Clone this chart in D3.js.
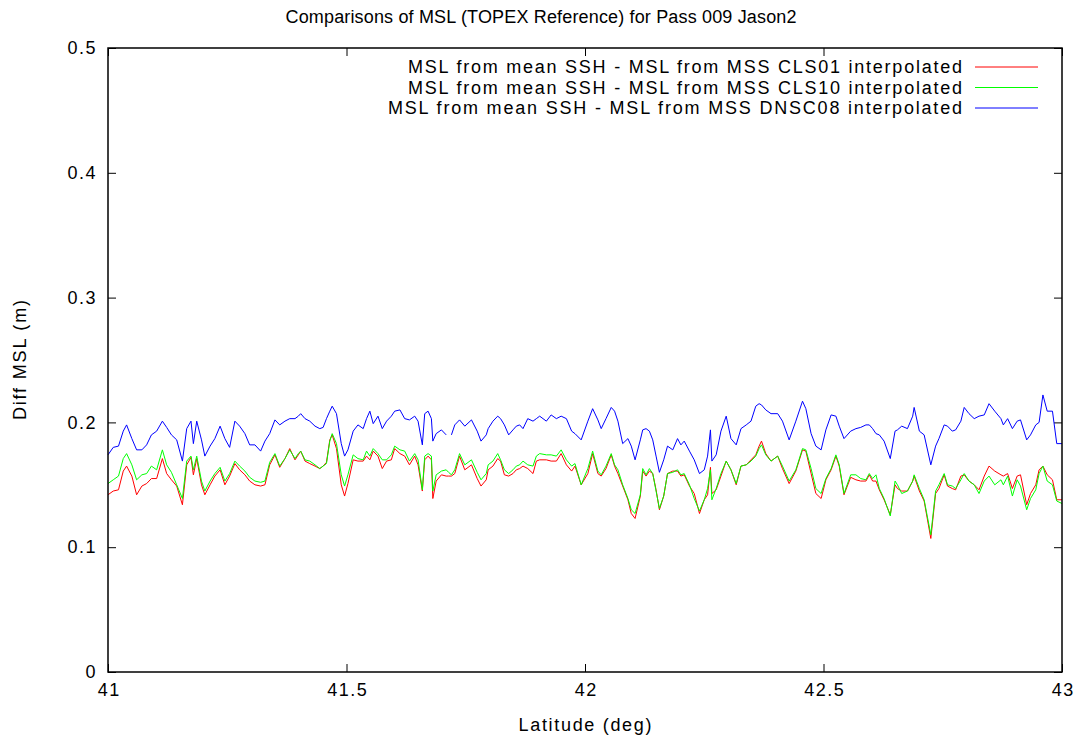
<!DOCTYPE html>
<html>
<head>
<meta charset="utf-8">
<title>Comparisons of MSL</title>
<style>
  body { margin: 0; background: #fff; }
  text { font-family: 'Liberation Sans', Arial, sans-serif; fill: #000; }
  .tick line { stroke: #000; }
  .tick text { letter-spacing: 1.5px; }
</style>
<script src="https://d3js.org/d3.v7.min.js"></script>
</head>
<body>
<div id="container"></div>
<script>
// ******* Data *******
const title = "Comparisons of MSL (TOPEX Reference) for Pass 009 Jason2";
const xLabel = "Latitude (deg)";
const yLabel = "Diff MSL (m)";
const seriesNames = [
  "MSL from mean SSH - MSL from MSS CLS01 interpolated",
  "MSL from mean SSH - MSL from MSS CLS10 interpolated",
  "MSL from mean SSH - MSL from MSS DNSC08 interpolated"
];
const seriesColors = ["#ff0000", "#00ff00", "#0000ff"];
const xTicks = [41, 41.5, 42, 42.5, 43];
const yTicks = [0, 0.1, 0.2, 0.3, 0.4, 0.5];

const lat = [
  41.000, 41.011, 41.022, 41.032, 41.039, 41.050, 41.060, 41.071, 41.081, 41.091,
  41.102, 41.114, 41.123, 41.133, 41.144, 41.156, 41.165, 41.174, 41.179, 41.186,
  41.196, 41.203, 41.214, 41.224, 41.235, 41.245, 41.255, 41.266, 41.276, 41.287,
  41.297, 41.308, 41.320, 41.329, 41.339, 41.350, 41.360, 41.371, 41.381, 41.392,
  41.399, 41.404, 41.413, 41.423, 41.434, 41.444, 41.451, 41.458, 41.465, 41.470,
  41.479, 41.489, 41.496, 41.503, 41.514, 41.524, 41.535, 41.542, 41.549, 41.556,
  41.566, 41.575, 41.584, 41.594, 41.601, 41.612, 41.622, 41.632, 41.643, 41.650,
  41.659, 41.664, 41.671, 41.678, 41.681, 41.688, 41.699, 41.709, 41.714, 41.720,
  41.727, 41.737, 41.748, 41.762, 41.774, 41.782, 41.793,
  41.797, 41.807, 41.817, 41.823, 41.831, 41.840, 41.849, 41.856, 41.863, 41.870,
  41.880, 41.891, 41.898, 41.905, 41.919, 41.929, 41.940, 41.950, 41.961, 41.972,
  41.979, 41.992, 42.006, 42.016, 42.027, 42.034, 42.044, 42.055, 42.062, 42.069,
  42.079, 42.090, 42.097, 42.105, 42.116, 42.121, 42.128, 42.135, 42.142, 42.149,
  42.156, 42.165, 42.173, 42.184, 42.194,
  42.201, 42.208, 42.219, 42.229, 42.240, 42.250, 42.257, 42.263, 42.266, 42.275,
  42.285, 42.296, 42.306, 42.317, 42.327, 42.338, 42.348, 42.358, 42.365, 42.370,
  42.379, 42.390, 42.404, 42.414, 42.428, 42.442, 42.456, 42.463, 42.474, 42.484,
  42.495, 42.505, 42.516, 42.526, 42.533, 42.543, 42.557, 42.568, 42.578, 42.589,
  42.596, 42.603, 42.610, 42.617, 42.627, 42.640, 42.650, 42.655, 42.664, 42.676,
  42.687, 42.690, 42.701, 42.711, 42.725, 42.735, 42.742, 42.753, 42.760, 42.770,
  42.777, 42.788, 42.795, 42.805, 42.816, 42.826, 42.837, 42.847, 42.859, 42.872,
  42.877, 42.886, 42.896, 42.906, 42.913, 42.926, 42.934, 42.945, 42.952, 42.960,
  42.969, 42.980, 42.989, 43.000
];

const cls01 = [
  0.142, 0.145, 0.146, 0.161, 0.165, 0.157, 0.142, 0.149, 0.151, 0.155,
  0.155, 0.171, 0.159, 0.154, 0.149, 0.134, 0.166, 0.172, 0.158, 0.171,
  0.150, 0.142, 0.150, 0.157, 0.162, 0.150, 0.157, 0.167, 0.162, 0.158,
  0.153, 0.150, 0.149, 0.150, 0.166, 0.174, 0.164, 0.171, 0.179, 0.170,
  0.174, 0.177, 0.169, 0.167, 0.165, 0.163, 0.165, 0.168, 0.186, 0.190,
  0.179, 0.150, 0.141, 0.151, 0.170, 0.169, 0.169, 0.173, 0.170, 0.177,
  0.173, 0.163, 0.169, 0.170, 0.179, 0.175, 0.173, 0.166, 0.173, 0.166,
  0.145, 0.170, 0.173, 0.170, 0.139, 0.153, 0.158, 0.157, 0.157, 0.157,
  0.159, 0.173, 0.162, 0.166, 0.155, 0.149, 0.154,
  0.162, 0.165, 0.171, 0.169, 0.158, 0.157, 0.159, 0.162, 0.163, 0.165,
  0.163, 0.159, 0.169, 0.170, 0.170, 0.169, 0.169, 0.175, 0.166, 0.161,
  0.165, 0.150, 0.159, 0.175, 0.159, 0.157, 0.163, 0.174, 0.165, 0.159,
  0.149, 0.138, 0.127, 0.123, 0.141, 0.161, 0.157, 0.161, 0.159, 0.146,
  0.130, 0.141, 0.159, 0.161, 0.161,
  0.157, 0.158, 0.149, 0.143, 0.127, 0.138, 0.142, 0.164, 0.143, 0.146,
  0.157, 0.169, 0.162, 0.150, 0.165, 0.166, 0.170, 0.174, 0.181, 0.185,
  0.175, 0.169, 0.173, 0.163, 0.151, 0.161, 0.178, 0.177, 0.159, 0.143,
  0.139, 0.154, 0.162, 0.173, 0.165, 0.142, 0.156, 0.154, 0.153, 0.153,
  0.158, 0.153, 0.153, 0.146, 0.138, 0.126, 0.150, 0.147, 0.145, 0.145,
  0.153, 0.157, 0.145, 0.137, 0.107, 0.143, 0.147, 0.158, 0.149, 0.147,
  0.146, 0.157, 0.158, 0.153, 0.150, 0.146, 0.157, 0.165, 0.161, 0.158,
  0.157, 0.159, 0.147, 0.157, 0.158, 0.134, 0.143, 0.150, 0.162, 0.165,
  0.158, 0.154, 0.138, 0.138
];

const cls10 = [
  0.151, 0.154, 0.157, 0.171, 0.175, 0.166, 0.154, 0.158, 0.159, 0.165,
  0.162, 0.178, 0.166, 0.160, 0.150, 0.139, 0.169, 0.173, 0.162, 0.173,
  0.153, 0.145, 0.153, 0.159, 0.164, 0.153, 0.159, 0.169, 0.165, 0.161,
  0.156, 0.153, 0.152, 0.153, 0.168, 0.175, 0.165, 0.171, 0.178, 0.171,
  0.175, 0.177, 0.170, 0.169, 0.166, 0.163, 0.165, 0.167, 0.185, 0.191,
  0.183, 0.158, 0.149, 0.158, 0.174, 0.171, 0.170, 0.177, 0.173, 0.179,
  0.175, 0.170, 0.170, 0.174, 0.181, 0.178, 0.177, 0.169, 0.175, 0.170,
  0.146, 0.173, 0.175, 0.173, 0.145, 0.158, 0.161, 0.162, 0.160, 0.158,
  0.162, 0.175, 0.166, 0.170, 0.160, 0.154, 0.159,
  0.166, 0.169, 0.175, 0.170, 0.162, 0.159, 0.162, 0.165, 0.166, 0.169,
  0.166, 0.165, 0.173, 0.175, 0.174, 0.174, 0.173, 0.178, 0.170, 0.165,
  0.167, 0.150, 0.163, 0.177, 0.161, 0.158, 0.165, 0.175, 0.166, 0.162,
  0.150, 0.139, 0.130, 0.127, 0.142, 0.163, 0.158, 0.163, 0.159, 0.145,
  0.131, 0.141, 0.159, 0.160, 0.162,
  0.158, 0.159, 0.150, 0.139, 0.129, 0.138, 0.147, 0.162, 0.138, 0.147,
  0.159, 0.169, 0.162, 0.151, 0.165, 0.166, 0.169, 0.173, 0.179, 0.182,
  0.174, 0.169, 0.173, 0.165, 0.153, 0.162, 0.179, 0.178, 0.163, 0.147,
  0.143, 0.155, 0.163, 0.174, 0.166, 0.143, 0.158, 0.158, 0.155, 0.154,
  0.159, 0.155, 0.158, 0.147, 0.139, 0.125, 0.153, 0.150, 0.143, 0.145,
  0.153, 0.158, 0.147, 0.138, 0.110, 0.145, 0.150, 0.159, 0.150, 0.149,
  0.147, 0.154, 0.159, 0.153, 0.150, 0.143, 0.153, 0.157, 0.150, 0.154,
  0.150, 0.157, 0.141, 0.154, 0.149, 0.130, 0.139, 0.146, 0.159, 0.165,
  0.153, 0.150, 0.137, 0.135
];

const dnsc08 = [
  0.174, 0.180, 0.181, 0.193, 0.198, 0.187, 0.178, 0.178, 0.182, 0.190,
  0.193, 0.201, 0.196, 0.190, 0.186, 0.169, 0.195, 0.201, 0.183, 0.201,
  0.186, 0.173, 0.181, 0.187, 0.197, 0.187, 0.180, 0.201, 0.197, 0.191,
  0.182, 0.182, 0.177, 0.185, 0.191, 0.202, 0.198, 0.201, 0.203, 0.203,
  0.205, 0.207, 0.203, 0.201, 0.197, 0.195, 0.196, 0.203, 0.209, 0.213,
  0.207, 0.183, 0.173, 0.178, 0.193, 0.198, 0.195, 0.203, 0.209, 0.199,
  0.205, 0.195, 0.201, 0.205, 0.209, 0.210, 0.203, 0.202, 0.205, 0.201,
  0.182, 0.207, 0.209, 0.203, 0.185, 0.191, 0.194, 0.190, null,  0.190,
  0.198, 0.202, 0.197, 0.202, 0.193, 0.185, 0.190,
  0.195, 0.201, 0.205, 0.203, 0.198, 0.190, 0.194, 0.197, 0.198, 0.195,
  0.203, 0.201, 0.203, 0.205, 0.201, 0.206, 0.203, 0.205, 0.203, 0.193,
  0.191, 0.186, 0.201, 0.211, 0.202, 0.195, 0.203, 0.212, 0.209, 0.201,
  0.183, 0.187, 0.181, 0.170, 0.186, 0.194, 0.195, 0.193, 0.186, 0.173,
  0.160, 0.170, 0.181, 0.178, 0.187,
  0.182, 0.185, 0.177, 0.170, 0.159, 0.162, 0.173, 0.194, 0.169, 0.174,
  0.193, 0.205, 0.187, 0.182, 0.195, 0.198, 0.201, 0.213, 0.215, 0.214,
  0.210, 0.207, 0.207, 0.201, 0.186, 0.201, 0.217, 0.211, 0.191, 0.181,
  0.178, 0.194, 0.206, 0.205, 0.197, 0.187, 0.193, 0.195, 0.196, 0.198,
  0.198, 0.195, 0.191, 0.190, 0.185, 0.171, 0.193, 0.194, 0.197, 0.195,
  0.205, 0.212, 0.193, 0.190, 0.166, 0.181, 0.187, 0.198, 0.197, 0.193,
  0.194, 0.201, 0.212, 0.207, 0.203, 0.205, 0.206, 0.215, 0.209, 0.203,
  0.198, 0.203, 0.195, 0.201, 0.202, 0.186, 0.190, 0.198, 0.200, 0.222,
  0.209, 0.209, 0.183, 0.183
];

const series = [cls01, cls10, dnsc08];

// ******* Constants *******
const width = 1080,
      height = 738,
      margin = { top: 48, right: 18, bottom: 66, left: 108 },
      fontSize = 18;

// ******* Scales *******
const x = d3.scaleLinear()
    .domain([41, 43])
    .range([margin.left, width - margin.right]);

const y = d3.scaleLinear()
    .domain([0, 0.5])
    .range([height - margin.bottom, margin.top]);

// ******* Create SVG *******
const svg = d3.select("#container").append("svg")
    .attr("width", width)
    .attr("height", height)
    .style("display", "block");

// ******* Axes (gnuplot style: ticks point inwards on every side) *******
const fmt = d => String(+d.toFixed(2));

svg.append("g")
    .attr("transform", `translate(0, ${y(0)})`)
    .call(d3.axisBottom(x).tickValues(xTicks).tickSize(-8).tickPadding(11).tickFormat(fmt))
    .call(g => g.selectAll("text").attr("font-size", fontSize).attr("dx", "0.75px"));

svg.append("g")
    .attr("transform", `translate(0, ${y(0.5)})`)
    .call(d3.axisTop(x).tickValues(xTicks).tickSize(-8).tickFormat(""));

svg.append("g")
    .attr("transform", `translate(${x(41)}, 0)`)
    .call(d3.axisLeft(y).tickValues(yTicks).tickSize(-8).tickPadding(11).tickFormat(fmt))
    .call(g => g.selectAll("text").attr("font-size", fontSize));

svg.append("g")
    .attr("transform", `translate(${x(43)}, 0)`)
    .call(d3.axisRight(y).tickValues(yTicks).tickSize(-8).tickFormat(""));

svg.selectAll(".domain").remove();

// ******* Lines *******
const line = d3.line()
    .defined(d => d[1] !== null)
    .x(d => x(d[0]))
    .y(d => y(d[1]));

series.forEach((vals, i) => {
  svg.append("path")
      .datum(lat.map((la, j) => [la, vals[j]]))
      .attr("fill", "none")
      .attr("stroke", seriesColors[i])
      .attr("stroke-width", 1)
      .attr("d", line);
});

// frame on top
svg.append("rect")
    .attr("x", x(41))
    .attr("y", y(0.5))
    .attr("width", x(43) - x(41))
    .attr("height", y(0) - y(0.5))
    .attr("fill", "none")
    .attr("stroke", "#000")
    .attr("stroke-width", 1.5);

// ******* Legend *******
// gnuplot's png font runs wider than Liberation Sans, so stretch the spacing
const legendWidths = [554, 554, 574];
const legend = svg.append("g");
seriesNames.forEach((name, i) => {
  const ly = 67 + i * 20.5;
  legend.append("text")
      .attr("x", 962)
      .attr("y", ly)
      .attr("dy", "0.35em")
      .attr("text-anchor", "end")
      .attr("font-size", fontSize)
      .attr("textLength", legendWidths[i])
      .attr("lengthAdjust", "spacing")
      .text(name);
  legend.append("line")
      .attr("x1", 975).attr("x2", 1038)
      .attr("y1", ly).attr("y2", ly)
      .attr("stroke", seriesColors[i])
      .attr("stroke-width", 1);
});

// ******* Titles *******
svg.append("text")
    .attr("x", 541)
    .attr("y", 17)
    .attr("dy", "0.35em")
    .attr("text-anchor", "middle")
    .attr("font-size", fontSize)
    .attr("textLength", 511)
    .attr("lengthAdjust", "spacing")
    .text(title);

svg.append("text")
    .attr("x", x(42))
    .attr("y", 725)
    .attr("dy", "0.35em")
    .attr("text-anchor", "middle")
    .attr("font-size", fontSize)
    .attr("textLength", 133)
    .attr("lengthAdjust", "spacing")
    .text(xLabel);

svg.append("text")
    .attr("transform", `translate(20, ${(y(0) + y(0.5)) / 2}) rotate(-90)`)
    .attr("dy", "0.35em")
    .attr("text-anchor", "middle")
    .attr("font-size", fontSize)
    .attr("textLength", 120)
    .attr("lengthAdjust", "spacing")
    .text(yLabel);
</script>
</body>
</html>
